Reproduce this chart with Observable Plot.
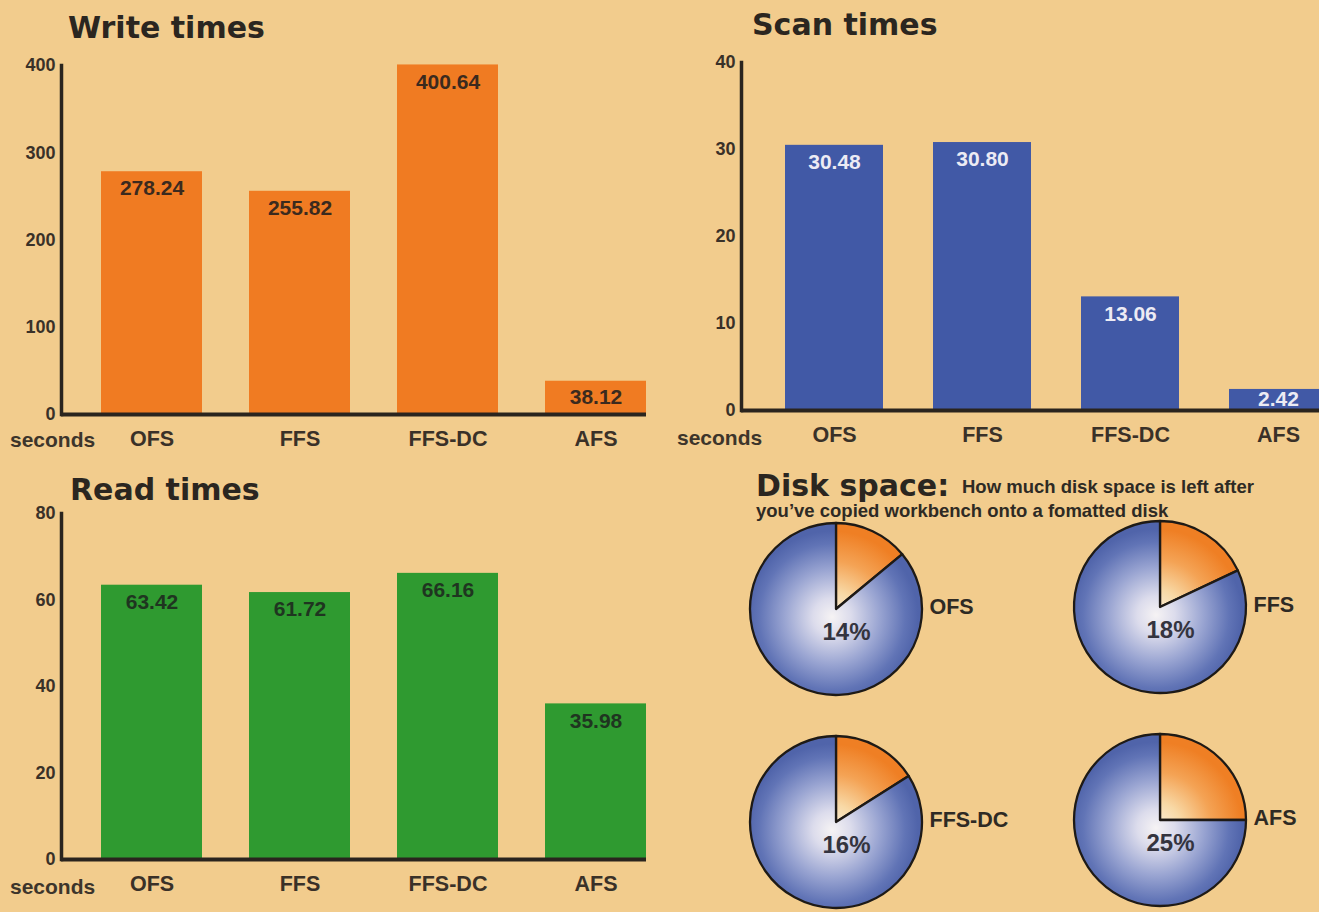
<!DOCTYPE html>
<html><head><meta charset="utf-8">
<script src="https://cdn.jsdelivr.net/npm/d3@7"></script>
<script src="https://cdn.jsdelivr.net/npm/@observablehq/plot@0.6"></script>
<style>
html,body{margin:0;padding:0;}
body{width:1319px;height:912px;overflow:hidden;background:#f2cc8d;position:relative;font-family:"Liberation Sans",Arial,sans-serif;}
.abs{position:absolute;}
.title{font-family:"DejaVu Sans",sans-serif;font-weight:bold;font-size:30px;line-height:1;color:#2b2620;white-space:nowrap;}
.sec{font-weight:bold;font-size:21px;color:#3d352b;line-height:1;white-space:nowrap;}
.sub{font-weight:bold;font-size:18.5px;color:#2e2a24;line-height:1;white-space:nowrap;}
</style></head><body>
<script>
// ---- data ----
const categories = ["OFS", "FFS", "FFS-DC", "AFS"];
const writeTimes = [278.24, 255.82, 400.64, 38.12];
const scanTimes = [30.48, 30.80, 13.06, 2.42];
const readTimes = [63.42, 61.72, 66.16, 35.98];
const writeTicks = [0, 100, 200, 300, 400];
const scanTicks = [0, 10, 20, 30, 40];
const readTicks = [0, 20, 40, 60, 80];
const diskNames = ["OFS", "FFS", "FFS-DC", "AFS"];
const diskFreePct = [14, 18, 16, 25];

const FONT = '"Liberation Sans", Arial, sans-serif';
const INK = "#3a3128";
const AXIS = "#2a241e";

function place(el, left, top) {
  el.style.position = "absolute";
  el.style.left = left + "px";
  el.style.top = top + "px";
  document.body.appendChild(el);
  return el;
}
function label(text, cls, left, top) {
  const d = document.createElement("div");
  d.className = cls;
  d.textContent = text;
  return place(d, left, top);
}

function barChart(o) {
  const data = categories.map((c, i) => ({cat: c, v: o.values[i]}));
  const fmt = d3.format(".2f");
  const yMax = o.ticks[o.ticks.length - 1];
  const small = d => d.v < 0.1 * yMax;
  const p = Plot.plot({
    width: o.width, height: o.height,
    marginLeft: o.marginLeft, marginRight: o.marginRight, marginTop: o.marginTop, marginBottom: 40,
    style: {background: "transparent", overflow: "visible", fontFamily: FONT},
    x: {domain: categories, paddingInner: o.paddingInner, paddingOuter: o.paddingOuter, align: 1},
    y: {domain: [0, yMax]},
    marks: [
      Plot.barY(data, {x: "cat", y: "v", fill: o.fill, inset: 0}),
      Plot.text(data, {filter: d => !small(d), x: "cat", y: "v", text: d => fmt(d.v), dy: 17,
        fill: o.labelFill, fontSize: 21, fontWeight: "bold"}),
      Plot.text(data, {filter: small, x: "cat", y: d => d.v / 2, text: d => fmt(d.v), dy: -1,
        fill: o.labelFill, fontSize: 21, fontWeight: "bold"}),
      Plot.axisY({ticks: o.ticks, tickSize: 0, tickPadding: 6, label: null, fontSize: 18, fontWeight: "bold", color: INK}),
      Plot.axisX({tickSize: 0, tickPadding: 16, label: null, fontSize: 21.5, fontWeight: "bold", color: INK}),
      Plot.frame({anchor: "left", stroke: AXIS, strokeWidth: 3.5}),
      Plot.ruleY([0], {stroke: AXIS, strokeWidth: 4})
    ]
  });
  place(p, o.left, o.top);
}

// Write times
label("Write times", "title", 68, 13);
barChart({values: writeTimes, ticks: writeTicks, fill: "#f07b22", labelFill: "#3b2a1e",
  left: 0, top: 50, width: 660, height: 404, marginLeft: 61, marginRight: 14, marginTop: 15,
  paddingInner: 0.32, paddingOuter: 0.13});
label("seconds", "sec", 10, 429);

// Scan times
label("Scan times", "title", 752, 10);
barChart({values: scanTimes, ticks: scanTicks, fill: "#4159a6", labelFill: "#ecebf4",
  left: 680, top: 45, width: 660, height: 405, marginLeft: 61, marginRight: 13, marginTop: 17,
  paddingInner: 0.335, paddingOuter: 0.134});
label("seconds", "sec", 677, 427);

// Read times
label("Read times", "title", 70, 475);
barChart({values: readTimes, ticks: readTicks, fill: "#2f9a30", labelFill: "#1f3520",
  left: 0, top: 495, width: 660, height: 404, marginLeft: 61, marginRight: 14, marginTop: 18,
  paddingInner: 0.32, paddingOuter: 0.13});
label("seconds", "sec", 10, 876);

// Disk space
label("Disk space:", "title", 756, 471);
label("How much disk space is left after", "sub", 962, 478);
label("you\u2019ve copied workbench onto a fomatted disk", "sub", 756, 502);

function pieMark(pct, id) {
  return (index, scales) => {
    const cx = scales.x(0), cy = scales.y(0), r = scales.x(1) - scales.x(0);
    const g = d3.create("svg:g").attr("transform", `translate(${cx},${cy})`);
    const defs = g.append("defs");
    const gb = defs.append("radialGradient").attr("id", `pb${id}`)
      .attr("gradientUnits", "userSpaceOnUse").attr("cx", -4).attr("cy", 8).attr("r", r);
    [[0, "#f6f3f4"], [0.22, "#dcdcec"], [0.55, "#9aa5d2"], [0.85, "#6174b6"], [1, "#5064aa"]]
      .forEach(([o, c]) => gb.append("stop").attr("offset", o).attr("stop-color", c));
    const go = defs.append("radialGradient").attr("id", `po${id}`)
      .attr("gradientUnits", "userSpaceOnUse").attr("cx", -4).attr("cy", 8).attr("r", r);
    [[0, "#fbf1de"], [0.3, "#f8d9a6"], [0.65, "#f4a355"], [1, "#ef7f24"]]
      .forEach(([o, c]) => go.append("stop").attr("offset", o).attr("stop-color", c));
    const arcs = d3.pie().sort(null).value(d => d)([pct, 100 - pct]);
    const arc = d3.arc().innerRadius(0).outerRadius(r);
    g.selectAll("path").data(arcs).join("path")
      .attr("d", arc)
      .attr("fill", (d, i) => i === 0 ? `url(#po${id})` : `url(#pb${id})`)
      .attr("stroke", "#1e1a16").attr("stroke-width", 2.3).attr("stroke-linejoin", "round");
    return g.node();
  };
}

const pieCenters = [[836, 609], [1160, 607], [836, 822], [1160, 820]];
const R = 86;
diskNames.forEach((name, i) => {
  const pct = diskFreePct[i];
  const [cx, cy] = pieCenters[i];
  const p = Plot.plot({
    width: 270, height: 180, margin: 0,
    style: {background: "transparent", overflow: "visible", fontFamily: FONT},
    x: {domain: [-90 / R, 180 / R], axis: null},
    y: {domain: [-90 / R, 90 / R], axis: null},
    marks: [
      pieMark(pct, i),
      Plot.text([pct], {x: () => 0, y: () => 0, text: d => `${d}%`, dx: 10, dy: 23,
        fill: "#34343f", fontSize: 24, fontWeight: "bold"}),
      Plot.text([name], {x: () => 1, y: () => 0, text: d => d, textAnchor: "start", dx: 7, dy: -2,
        fill: "#2e2a24", fontSize: 21.5, fontWeight: "bold"})
    ]
  });
  place(p, cx - 90, cy - 90);
});
</script>
</body></html>
